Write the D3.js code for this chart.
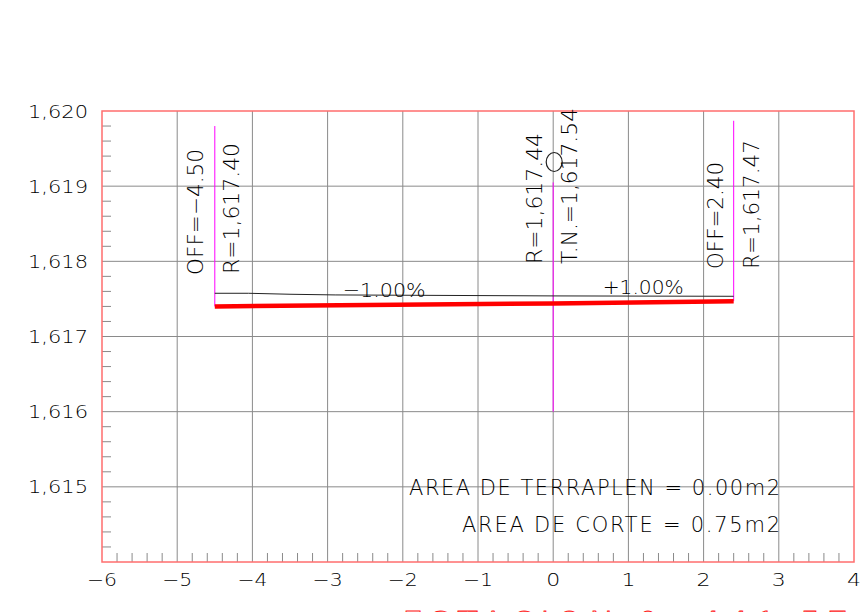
<!DOCTYPE html>
<html>
<head>
<meta charset="utf-8">
<script src="https://cdn.jsdelivr.net/npm/d3@7"></script>
<style>
  html, body { margin: 0; padding: 0; background: #fff; overflow: hidden; }
  svg { display: block; }
  text { font-family: "DejaVu Sans", sans-serif; font-weight: 300; fill: #000; }
</style>
</head>
<body>
<svg id="chart" width="867" height="612"></svg>
<script>
// ---------- data ----------
const xTickValues = [-6, -5, -4, -3, -2, -1, 0, 1, 2, 3, 4];
const xTickLabels = ["\u22126", "\u22125", "\u22124", "\u22123", "\u22122", "\u22121", "0", "1", "2", "3", "4"];
const yTickValues = [1615, 1616, 1617, 1618, 1619, 1620];
const yTickLabels = ["1,615", "1,616", "1,617", "1,618", "1,619", "1,620"];

// design (subrasante) line
const designOffsets = [-4.5, 0, 2.4];
const designElev = [1617.40, 1617.44, 1617.47];

// natural terrain line
const terrainOffsets = [-4.5, -4.05, -3.5, -2.9, 0, 2.4];
const terrainElev = [1617.575, 1617.575, 1617.562, 1617.553, 1617.54, 1617.535];

// vertical reference lines
const vertOffsets = [-4.5, 0, 2.4];
const vertTop = [1619.80, 1619.05, 1619.87];
const vertBottom = [1617.40, 1616.00, 1617.47];

// annotation texts
const leftLabels = ["OFF=\u22124.50", "R=1,617.40"];
const centerLabels = ["R=1,617.44", "T.N.=1,617.54"];
const rightLabels = ["OFF=2.40", "R=1,617.47"];
const slopeLabels = ["\u22121.00%", "+1.00%"];
const areaLabels = ["AREA DE TERRAPLEN = 0.00m2", "AREA DE CORTE = 0.75m2"];
const stationLabel = "ESTACION 0+441.57";

// ---------- drawing ----------
const svg = d3.select("#chart");
const x = d3.scaleLinear().domain([-6, 4]).range([102, 854]);
const y = d3.scaleLinear().domain([1614, 1620]).range([562, 111]);

const gridColor = "#8a8a8a";
const frameColor = "#ff6e6e";

// grid lines
svg.append("g").selectAll("line").data(xTickValues.slice(1, -1)).join("line")
  .attr("x1", d => x(d)).attr("x2", d => x(d))
  .attr("y1", y(1614)).attr("y2", y(1620))
  .attr("stroke", gridColor).attr("stroke-width", 1);
svg.append("g").selectAll("line").data(yTickValues.slice(0, -1)).join("line")
  .attr("x1", x(-6)).attr("x2", x(4))
  .attr("y1", d => y(d)).attr("y2", d => y(d))
  .attr("stroke", gridColor).attr("stroke-width", 1);

// minor ticks
const minorX = d3.range(-6, 4.0001, 0.2).map(v => +v.toFixed(1)).filter(v => Math.abs(v - Math.round(v)) > 0.05);
const minorY = d3.range(1614, 1620.0001, 0.2).map(v => +v.toFixed(1)).filter(v => Math.abs(v - Math.round(v)) > 0.05);
svg.append("g").selectAll("line").data(minorX).join("line")
  .attr("x1", d => x(d)).attr("x2", d => x(d))
  .attr("y1", y(1614)).attr("y2", y(1614) - 9)
  .attr("stroke", gridColor).attr("stroke-width", 1);
svg.append("g").selectAll("line").data(minorY).join("line")
  .attr("x1", x(-6)).attr("x2", x(-6) + 9)
  .attr("y1", d => y(d)).attr("y2", d => y(d))
  .attr("stroke", gridColor).attr("stroke-width", 1);

// frame
svg.append("rect")
  .attr("x", x(-6)).attr("y", y(1620))
  .attr("width", x(4) - x(-6)).attr("height", y(1614) - y(1620))
  .attr("fill", "none").attr("stroke", frameColor).attr("stroke-width", 1.5);

// axis labels
svg.append("g").selectAll("text").data(xTickValues).join("text")
  .attr("x", d => x(d)).attr("y", 586)
  .attr("text-anchor", "middle").attr("font-size", 18)
  .attr("textLength", (d, i) => xTickLabels[i].length > 1 ? 30 : 14)
  .attr("lengthAdjust", "spacingAndGlyphs")
  .text((d, i) => xTickLabels[i]);
svg.append("g").selectAll("text").data(yTickValues).join("text")
  .attr("x", 88).attr("y", d => y(d) + 6.5)
  .attr("text-anchor", "end").attr("font-size", 18)
  .attr("textLength", 60).attr("lengthAdjust", "spacingAndGlyphs")
  .text((d, i) => yTickLabels[i]);

// vertical magenta lines
svg.append("g").selectAll("line").data(vertOffsets).join("line")
  .attr("x1", d => x(d)).attr("x2", d => x(d))
  .attr("y1", (d, i) => y(vertTop[i])).attr("y2", (d, i) => y(vertBottom[i]))
  .attr("stroke", "#ff00ff").attr("stroke-width", 1);

// terrain line
const line = d3.line().x(d => x(d[0])).y(d => y(d[1]));
svg.append("path")
  .datum(terrainOffsets.map((o, i) => [o, terrainElev[i]]))
  .attr("d", line).attr("fill", "none")
  .attr("stroke", "#222").attr("stroke-width", 1);

// design line
svg.append("path")
  .datum(designOffsets.map((o, i) => [o, designElev[i]]))
  .attr("d", line).attr("fill", "none")
  .attr("stroke", "#ff0000").attr("stroke-width", 4.5);

// centre marker
svg.append("ellipse")
  .attr("cx", x(0) + 1).attr("cy", 162)
  .attr("rx", 8).attr("ry", 9.5)
  .attr("fill", "none").attr("stroke", "#222").attr("stroke-width", 1.2);

// rotated labels
function vlabel(txt, bx, by, len) {
  svg.append("text")
    .attr("transform", `translate(${bx},${by}) rotate(-90)`)
    .attr("font-size", 22)
    .attr("textLength", len).attr("lengthAdjust", "spacingAndGlyphs")
    .text(txt);
}
vlabel(leftLabels[0], x(-4.5) - 12, 275, 126);
vlabel(leftLabels[1], x(-4.5) + 24.5, 274, 131);
vlabel(centerLabels[0], x(0) - 11.5, 264, 131);
vlabel(centerLabels[1], x(0) + 23.5, 264, 156);
vlabel(rightLabels[0], x(2.4) - 10.5, 269, 107);
vlabel(rightLabels[1], x(2.4) + 25.5, 269, 129);

// slope labels
svg.append("text").attr("x", 342.7).attr("y", 297).attr("font-size", 20)
  .attr("textLength", 83).attr("lengthAdjust", "spacingAndGlyphs").text(slopeLabels[0]);
svg.append("text").attr("x", 602.7).attr("y", 294).attr("font-size", 20)
  .attr("textLength", 81).attr("lengthAdjust", "spacingAndGlyphs").text(slopeLabels[1]);

// area labels
svg.append("text").attr("x", 780).attr("y", 495).attr("text-anchor", "end").attr("font-size", 21)
  .attr("textLength", 371).attr("lengthAdjust", "spacing").text(areaLabels[0]);
svg.append("text").attr("x", 780).attr("y", 532).attr("text-anchor", "end").attr("font-size", 21)
  .attr("textLength", 318).attr("lengthAdjust", "spacing").text(areaLabels[1]);

// station title (cut at bottom edge, as in the reference)
svg.append("text").attr("x", 402).attr("y", 636).attr("font-size", 34)
  .attr("textLength", 447).attr("lengthAdjust", "spacing")
  .style("fill", "none").attr("stroke", "#ff2020").attr("stroke-width", 1)
  .text(stationLabel);
</script>
</body>
</html>
